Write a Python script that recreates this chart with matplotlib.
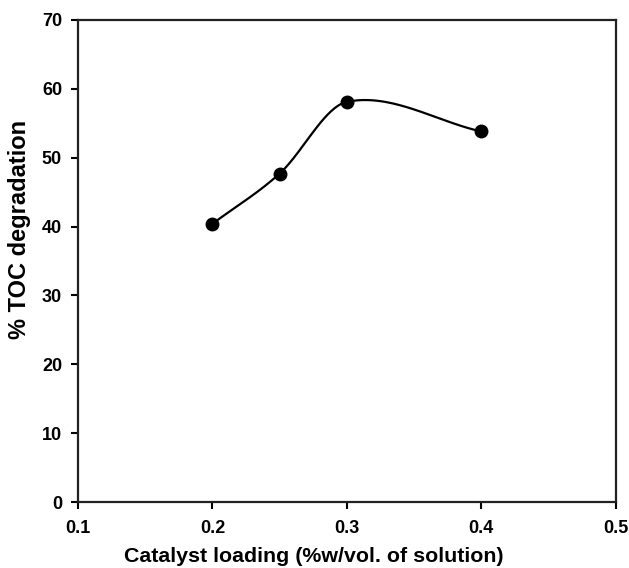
import numpy as np
import matplotlib
matplotlib.use("Agg")
import matplotlib.pyplot as plt

# catalyst loading vs TOC degradation
loading = [0.2, 0.25, 0.3, 0.4]
toc = [40.4, 47.7, 58.1, 53.8]

x_ticks = [0.1, 0.2, 0.3, 0.4, 0.5]
y_ticks = [0, 10, 20, 30, 40, 50, 60, 70]


def smooth_curve(xs, ys, n=60):
    # cubic hermite through the points (catmull-rom style tangents),
    # close to the spline line sigmaplot draws
    xs = np.asarray(xs, float)
    ys = np.asarray(ys, float)
    m = np.zeros(len(xs))
    m[0] = (ys[1] - ys[0]) / (xs[1] - xs[0])
    m[-1] = (ys[-1] - ys[-2]) / (xs[-1] - xs[-2])
    m[1:-1] = (ys[2:] - ys[:-2]) / (xs[2:] - xs[:-2])
    out_x, out_y = [], []
    for i in range(len(xs) - 1):
        h = xs[i + 1] - xs[i]
        t = np.linspace(0, 1, n)
        h00 = 2 * t**3 - 3 * t**2 + 1
        h10 = t**3 - 2 * t**2 + t
        h01 = -2 * t**3 + 3 * t**2
        h11 = t**3 - t**2
        out_x.append(xs[i] + t * h)
        out_y.append(h00 * ys[i] + h10 * h * m[i] + h01 * ys[i + 1] + h11 * h * m[i + 1])
    return np.concatenate(out_x), np.concatenate(out_y)


plt.rcParams['font.family'] = ['Liberation Sans', 'DejaVu Sans']
plt.rcParams['font.weight'] = 'bold'

fig = plt.figure(figsize=(6.29, 5.68), dpi=100)
ax = fig.add_axes([0.124, 0.116, 0.855, 0.849])

sx, sy = smooth_curve(loading, toc)
ax.plot(sx, sy, color='black', lw=1.6)
ax.plot(loading, toc, 'o', color='black', ms=9)

ax.set_xlim(0.1, 0.5)
ax.set_ylim(0, 70)
ax.set_xticks(x_ticks)
ax.set_xticklabels([f"{v:.1f}" for v in x_ticks])
ax.set_yticks(y_ticks)
ax.tick_params(direction='out', length=5, width=1.5, labelsize=13)
ax.tick_params(axis='x', pad=8)
ax.tick_params(axis='y', pad=6.5)
for s in ax.spines.values():
    s.set_linewidth(1.6)
    s.set_color('#222222')

ax.set_xlabel('Catalyst loading (%w/vol. of solution)', fontsize=15.4,
              fontweight='bold', va='baseline')
ax.xaxis.set_label_coords(0.439, -0.1245)
ax.set_ylabel('% TOC degradation', fontsize=17, fontweight='bold', va='center')
ax.yaxis.set_label_coords(-0.108, 0.566)

fig.savefig('out.png', dpi=100)
